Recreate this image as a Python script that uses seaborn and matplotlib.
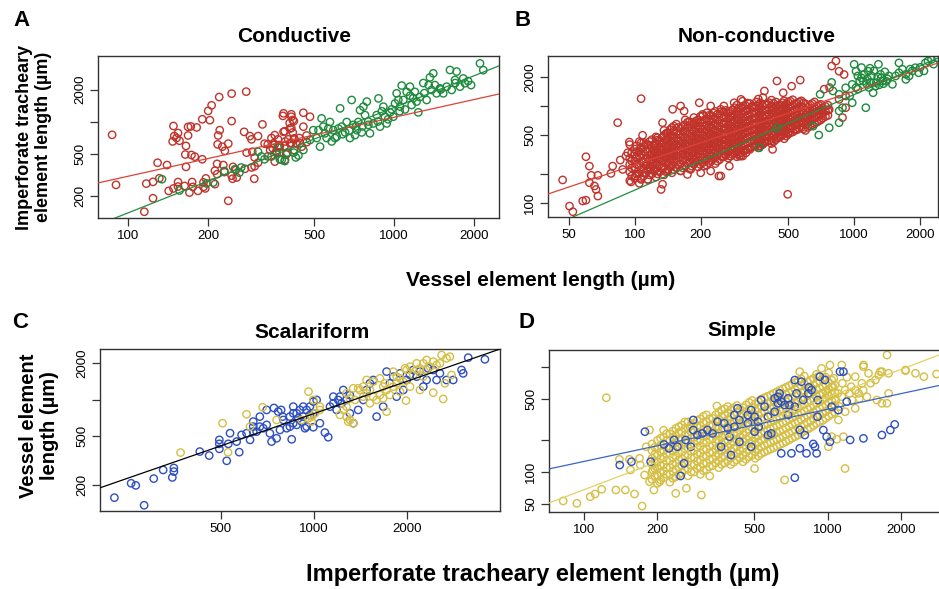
import numpy as np
import pandas as pd
import matplotlib
matplotlib.use("Agg")
import matplotlib.pyplot as plt
from matplotlib.ticker import NullLocator
import seaborn as sns

# ---------------- data (lengths in µm) ----------------
# Panel A – conductive: x = vessel element length, y = imperforate tracheary element length
a_red = [(87,750),(90,254),(129,410),(140,390),(117,261),(124,271),(131,293),(142,223),(148,235),
    (154,270),(154,245),(163,248),(174,270),(175,243),(170,215),(183,223),(192,243),(196,292),(190,442),
    (165,375),(164,490),(173,485),(178,468),(165,590),(148,908),(149,730),(147,650),(152,700),(156,660),
    (154,780),(168,890),(172,900),(181,880),(168,740),(190,1050),(200,1260),(206,1420),(203,1030),
    (220,1700),(245,1830),(278,1910),(245,1010),(221,830),(218,740),(226,580),(217,610),(238,620),
    (231,530),(216,400),(212,345),(228,390),(230,335),(248,375),(254,350),(245,310),(247,290),(256,298),
    (273,800),(287,730),(291,680),(293,520),(279,510),(299,460),(291,370),(298,290),(275,360),(238,180),
    (124,190),(115,142),(216,320),(212,258),(195,235),(192,268),(320,940),(308,730),(326,620),(335,610),
    (346,700),(356,610),(366,680),(382,1130),(411,1170),(405,970),(420,1010),(411,870),(416,790),
    (388,810),(400,680),(411,630),(388,590),(420,680),(371,510),(393,490),(356,420),(335,470),(308,410),
    (299,380),(384,1194),(411,1110),(456,1210),(416,1034),(406,860),(384,800),(356,745),(352,625),
    (372,581),(342,540),(362,503),(395,503),(389,436),(421,695),(443,625),(421,540),(406,625),(483,1110),
    (456,895),(469,740),(350,560),(370,600),(390,650),(430,620),(450,580),(470,640),(360,520),(440,700)]
a_green = [(134,287),(156,225),(197,262),(209,267),(230,343),(252,356),(262,331),(266,370),(308,520),
    (317,470),(326,442),(346,470),(372,442),(388,425),(366,570),(397,510),(420,510),(427,460),(378,436),
    (437,480),(456,540),(483,671),(512,700),(527,581),(534,1070),(550,775),(574,990),(591,830),(609,720),
    (627,1330),(636,895),(655,790),(683,700),(693,1594),(703,930),(724,830),(745,1280),(756,790),
    (767,1380),(778,1150),(790,1540),(801,930),(812,775),(836,960),(861,1150),(874,1650),(886,895),
    (912,1380),(925,1110),(939,960),(966,1220),(994,1110),(1009,1480),(1023,1841),(1038,1594),
    (1054,1380),(1069,2180),(1084,1594),(1116,1900),(1148,2127),(1165,1430),(1181,1660),(1198,1900),
    (1216,1540),(1234,1220),(1289,2300),(1327,1594),(1365,2600),(1385,1980),(1405,2837),(1425,2200),
    (1446,1841),(1489,2050),(1532,1841),(1578,2127),(1624,3050),(1648,1980),(1696,2456),(1720,2950),
    (1771,2127),(1822,2540),(1849,2290),(2106,3520),(2167,3040),(497,830),(542,895),(558,700),(583,650),
    (618,860),(664,990),(713,745),(734,990),(520,830),(566,860),(1100,1300),(950,1050),(870,1000),
    (800,1000),(760,900),(720,900),(680,820),(640,760),(600,700),(1250,1700),(1300,1850),(1500,2000),
    (1700,2300),(1900,2400),(1950,2200),(1150,1750),(1050,1250),(980,1300),(900,1250),(1350,2200)]

# Panel B – non-conductive
b_red = [(47,173),(50.5,93),(52.3,81.4),(58,105),(60,107),(68,118),(66.7,138),(65.6,150),(62.2,162),
    (63.4,193),(68,193),(60,300),(62.2,240),(78,202),(79.4,240),(83.7,673),(86,277),(91.3,305),(93,330),
    (88.2,222),(94.6,425),(107,1190),(108.7,499),(134,673),(96.3,165),(101,190),(114.6,175),(132,138),
    (134,156),(247,190),(272,305),(149,925),(162,1000),(168,887),(151,620),(197,1080),(204,820),
    (222,1000),(247,925),(284,1080),(310,1120),(187,673),(141,530),(127,471),(123,387),(107,418),
    (127,214),(141,214),(162,214),(180,222),(200,205),(222,214),(242,190),(270,240),(305,305),(207,240),
    (174,197),(115,222),(107,175),(111,205),(826,2910),(790,2580),(854,2280),(900,2110),(730,1490),
    (772,1550),(915,1270),(915,960),(885,760),(854,1170),(770,920),(720,850),(498,123),(425,357),
    (370,387),(305,357),(300,305),(390,1428),(445,1810),(568,1850),(519,1600),(475,1370),(305,1170),
    (343,1000),(384,1220),(322,330),(350,387),(380,418),(420,436),(460,490),(500,530),(540,575),
    (590,673),(630,730),(335,357),(311,305),(365,436)]
# dense core of the non-conductive cloud, one entry per vessel-length column
b_red_core = [
    (95, [170, 210, 250, 290, 400]), (100, [180, 230, 270, 320, 360]), (105, [160, 200, 245, 300, 340, 430]),
    (110, [190, 225, 265, 310, 380, 420]), (115, [175, 215, 250, 290, 335, 400]),
    (120, [200, 240, 280, 320, 370, 450]), (125, [185, 225, 265, 305, 350, 410, 480]),
    (130, [210, 250, 290, 330, 380, 440]), (136, [195, 235, 275, 315, 360, 420, 500, 560]),
    (142, [220, 260, 300, 345, 395, 460, 530]), (148, [205, 245, 285, 330, 375, 430, 500, 600]),
    (155, [230, 270, 310, 355, 405, 470, 540, 650]), (162, [215, 255, 295, 340, 390, 440, 510, 590]),
    (170, [240, 280, 320, 365, 415, 475, 550, 640, 720]), (178, [225, 265, 305, 350, 400, 455, 520, 600, 690]),
    (186, [250, 290, 335, 380, 430, 490, 560, 650, 760]), (195, [235, 275, 320, 365, 415, 470, 540, 620, 720]),
    (204, [260, 300, 345, 395, 445, 505, 580, 670, 790]),
    (213, [245, 285, 330, 380, 430, 490, 560, 640, 740, 850]),
    (223, [270, 310, 355, 405, 460, 520, 600, 690, 800]),
    (233, [255, 295, 340, 390, 440, 500, 570, 660, 760, 880]),
    (244, [280, 325, 370, 420, 475, 540, 620, 710, 820]),
    (255, [300, 345, 395, 450, 510, 580, 660, 760, 870, 1000]),
    (267, [290, 335, 380, 430, 490, 555, 635, 730, 840]),
    (279, [315, 360, 410, 465, 525, 600, 690, 790, 910]),
    (292, [300, 345, 395, 450, 510, 580, 660, 760, 880, 1020]),
    (305, [330, 380, 430, 490, 555, 630, 720, 830, 950]),
    (320, [350, 400, 455, 520, 590, 670, 770, 880, 1010]),
    (335, [370, 420, 480, 545, 620, 700, 800, 920, 1060]),
    (350, [390, 440, 500, 570, 650, 740, 850, 970]),
    (366, [370, 420, 475, 540, 610, 690, 790, 900, 1030, 1180]),
    (383, [400, 455, 515, 585, 665, 760, 870, 990]),
    (400, [430, 485, 550, 620, 700, 800, 910, 1050]),
    (420, [410, 465, 530, 600, 680, 770, 880, 1000, 1150]),
    (440, [450, 510, 575, 650, 740, 840, 960, 1100]),
    (460, [480, 545, 615, 700, 790, 900, 1030]),
    (480, [460, 520, 590, 670, 760, 860, 980, 1130]),
    (500, [510, 580, 655, 740, 840, 960, 1100]),
    (525, [540, 610, 690, 780, 890, 1010, 1160]),
    (550, [570, 645, 730, 830, 940, 1070]),
    (575, [600, 680, 770, 870, 990, 1130]),
    (600, [560, 640, 720, 810, 920, 1050]),
    (630, [620, 700, 790, 900, 1030]),
    (660, [660, 750, 850, 960, 1100]),
    (690, [700, 790, 900, 1020]),
    (720, [750, 850, 960]),
    (760, [800, 900, 1020])]
b_red_core_mid = [
    (97, [190, 230, 270, 330]), (102, [200, 250, 295, 340, 390]), (107, [180, 220, 270, 320, 370]),
    (112, [205, 245, 285, 340, 400]), (117, [195, 230, 270, 310, 360, 430]),
    (122, [215, 260, 300, 345, 400]), (127, [200, 245, 285, 325, 375, 445]),
    (133, [230, 270, 310, 355, 410, 470]), (139, [210, 255, 295, 335, 385, 450, 520]),
    (145, [235, 280, 320, 370, 425, 490, 570]), (151, [220, 265, 305, 350, 400, 460, 550]),
    (158, [245, 290, 330, 380, 435, 505, 600]), (166, [230, 275, 315, 365, 415, 475, 550, 620]),
    (174, [255, 300, 340, 390, 445, 510, 590, 680]), (182, [240, 285, 325, 375, 425, 485, 560, 640]),
    (190, [265, 310, 355, 405, 460, 520, 600, 700]), (199, [250, 295, 340, 390, 440, 505, 580, 670, 780]),
    (208, [275, 320, 370, 420, 475, 540, 620, 720]), (218, [260, 305, 355, 405, 460, 525, 600, 690, 800]),
    (228, [285, 330, 380, 430, 490, 560, 640, 740, 850]), (238, [270, 315, 365, 415, 470, 535, 615, 710, 820]),
    (249, [300, 345, 395, 450, 510, 580, 665, 760, 880]), (261, [315, 360, 410, 465, 525, 595, 680, 780, 900]),
    (273, [305, 355, 405, 460, 520, 590, 670, 770, 880]), (285, [330, 380, 430, 490, 555, 630, 720, 830, 960]),
    (298, [320, 370, 420, 480, 545, 620, 710, 810, 940]), (312, [345, 400, 455, 520, 590, 670, 770, 880, 1000]),
    (327, [360, 420, 480, 545, 620, 710, 810, 930, 1070]), (342, [380, 440, 500, 570, 650, 740, 850, 980]),
    (358, [400, 460, 520, 590, 670, 760, 870, 1000, 1100]), (374, [390, 445, 505, 575, 650, 740, 840, 950, 1080]),
    (391, [420, 480, 545, 615, 700, 800, 910, 1040]), (410, [440, 500, 570, 645, 730, 830, 950, 1080]),
    (430, [430, 490, 555, 630, 715, 810, 925, 1060]), (450, [470, 535, 605, 690, 780, 890, 1010]),
    (470, [500, 570, 645, 735, 830, 950, 1080]), (490, [490, 555, 630, 715, 810, 920, 1050]),
    (512, [530, 600, 680, 770, 870, 990, 1120]), (537, [560, 635, 720, 815, 925, 1050]),
    (562, [590, 670, 760, 860, 975, 1100]), (587, [580, 660, 745, 845, 960, 1080]),
    (615, [600, 680, 760, 860, 970]), (645, [640, 725, 820, 930, 1060]),
    (675, [680, 770, 875, 990]), (705, [720, 815, 920, 1040]), (740, [780, 880, 990])]
b_green = [(370,372),(445,597),(690,502),(650,620),(770,597),(854,673),(854,889),(700,1320),(790,1750),
    (800,1430),(854,1320),(915,1540),(980,1670),(1000,2690),(1040,2040),(1080,2490),(1100,1810),
    (1130,960),(1160,2280),(1170,1550),(1200,2040),(1220,1370),(1260,1740),(1290,2690),(1320,2120),
    (1350,1810),(1494,1672),(1546,2040),(1600,2780),(1660,2390),(1720,2120),(1780,2040),(1840,2300),
    (1900,2480),(1970,2200),(2110,2780),(2170,2910),(2250,3020),(2080,2300),(1720,1880),(1440,2040),
    (1020,2280),(1040,1490),(955,1270),(980,1080),(885,960),(1020,1550),(1060,1810),(1110,2100),
    (1150,1900),(1190,1750),(1230,2300),(1280,2000),(1330,1950),(1380,2250),(1420,1900),(1250,1600),
    (1180,2450),(1300,1650),(1140,1700),(1080,1950),(1360,1700),(1400,1800),(1600,2200),(1800,2400),
    (2000,2500),(2300,2700),(2400,3150)]

# Panel C – scalariform: x = imperforate tracheary element length, y = vessel element length
c_blue = [(226,157),(282,136),(256,206),(265,198),(303,225),(325,265),(348,230),(352,257),(352,275),
    (427,375),(458,348),(494,468),(494,434),(494,395),(535,531),(528,434),(522,315),(573,371),(562,453),
    (583,514),(605,530),(621,468),(636,601),(652,547),(668,601),(685,583),(703,621),(720,530),(729,453),
    (757,482),(776,565),(796,682),(816,583),(836,726),(857,641),(879,773),(901,824),(923,726),(947,601),
    (970,877),(995,773),(1020,995),(1045,641),(1085,537),(1112,492),(1127,877),(1155,934),(1184,824),
    (1213,1059),(1244,1201),(1275,995),(1307,773),(1340,641),(1390,824),(1444,995),(1517,1362),
    (1595,726),(1675,877),(1761,1362),(1806,1545),(1851,1059),(1898,1645),(1946,1201),(1995,1451),
    (2096,1753),(2149,1545),(2258,1280),(2315,1451),(2432,1753),(2493,1451),(2556,1645),(2685,1451),
    (2822,1451),(3004,1753),(3040,1645),(3157,2212),(3575,2143),(636,661),(703,824),(766,798),(792,726),
    (857,877),(923,877),(847,473),(995,594),(857,773),(890,704),(912,661),(947,824),(970,750),(879,621),
    (935,583),(836,601),(995,965),(1155,1059),(1198,995),(1228,934),(1307,1090),(1480,1201),(1555,1451),
    (1718,1700),(2045,1598),(2200,1700),(2340,1810),(742,855),(783,824),(668,726),(636,547)]
c_yellow = [(370,368),(506,641),(527,370),(605,759),(682,866),(621,601),(757,682),(960,1164),(995,995),
    (983,726),(1045,877),(1244,824),(1275,726),(1307,682),(1291,661),(1340,641),(1340,1240),(1390,1240),
    (1444,1280),(1480,1128),(1517,1201),(1555,1059),(1595,995),(1635,1093),(1675,1026),(1718,1201),
    (1718,798),(1761,1093),(1806,1280),(1851,1362),(1898,1497),(1946,1406),(1995,1753),(2045,1866),
    (2096,1595),(2149,1988),(2203,1808),(2258,1988),(2315,2117),(2373,1866),(2432,2051),(2493,1926),
    (2588,2326),(2685,2185),(2753,2254),(2787,1595),(2653,1362),(2620,1014),(2432,1142),(2203,1201),
    (1985,982),(1898,1164),(1696,1362),(1555,1406),(1408,1201),(1357,995),(1307,1026),(1275,877),
    (1213,750),(1480,1451),(1635,1497),(1806,1698),(1970,1808),(2149,1753),(2315,1753),(2556,1988),
    (1517,934),(1675,1280),(1851,1545),(2045,1280),(2258,1545),(912,682),(960,704),(983,661),(1045,824),
    (1007,773),(1275,1128),(1444,1059)]

# Panel D – simple
d_yellow = [(82,53),(93.3,50.3),(105.9,58.2),(110.9,61.7),(118,68.4),(123.3,510),(135,67.4),
    (147.6,67.4),(161,61.7),(173,47.4),(139.5,132),(153.5,132),(155,104.5),(168.8,135),(170,116.6),
    (185.6,251),(179.8,174),(177,93.6),(185.6,80.9),(193.4,67.4),(204,80.9),(191.6,104.5),(237.7,62.6),
    (303,60.4),(263,69.9),(328,91.6),(271.6,270),(351,425),(501,108),(666,84),(1179,108),(1754,1300),
    (2087,923),(2296,871),(2485,809),(2800,857),(1780,561),(1671,451),(1752,451),(1593,485),(1472,871),
    (1622,839),(1571,752),(1671,903),(1780,871),(1405,1045),(1298,809),(1383,699),(1341,561),(1259,485),
    (1298,404),(1180,375),(1143,522),(1107,313),(1180,604),(1143,1045),(1161,217),(1039,217),(1007,174),
    (1090,205),(768,903),(944,971),(1022,1045),(914,809),(1403,1007),(1645,902),(2090,936),(1050,650),
    (1100,560),(1150,700),(1200,800),(1250,650),(1080,480),(1120,420),(1000,560),(1060,780),(1230,560),
    (1300,600),(1400,600),(1500,700),(1350,500),(1450,520)]
d_yellow_core = [
    (190, [85, 100, 118, 135, 160, 185]), (200, [78, 92, 108, 125, 145, 170, 200]),
    (212, [88, 102, 118, 138, 160, 185, 215, 250]), (225, [80, 95, 110, 128, 150, 172, 200, 230]),
    (238, [90, 105, 122, 142, 165, 190, 220, 260]), (252, [98, 115, 133, 155, 180, 208, 240, 280]),
    (267, [92, 108, 126, 146, 170, 196, 226, 262, 300]), (283, [100, 118, 137, 160, 185, 214, 248, 290]),
    (300, [95, 112, 130, 152, 176, 204, 236, 275, 320]), (318, [105, 122, 142, 165, 192, 222, 258, 300, 350]),
    (337, [115, 133, 155, 180, 208, 242, 280, 325]), (357, [110, 128, 148, 172, 200, 232, 270, 315, 370]),
    (378, [122, 142, 165, 192, 222, 258, 300, 350, 400]), (400, [118, 136, 158, 184, 214, 248, 288, 335, 390]),
    (424, [130, 150, 175, 203, 235, 272, 316, 368, 430]), (449, [125, 145, 168, 195, 226, 262, 305, 355, 410]),
    (476, [140, 162, 188, 218, 253, 294, 340, 395, 460]), (504, [135, 156, 182, 211, 245, 284, 330, 383, 445]),
    (534, [150, 174, 202, 234, 272, 316, 366, 425, 495]), (566, [160, 186, 216, 250, 290, 336, 390, 452, 525]),
    (600, [170, 197, 229, 266, 308, 358, 415, 480, 560]), (636, [182, 211, 245, 284, 330, 382, 443, 514, 600]),
    (674, [195, 226, 262, 304, 352, 408, 474, 550, 640]), (714, [210, 244, 283, 328, 380, 440, 510, 590, 685]),
    (757, [225, 261, 303, 351, 407, 472, 548, 635, 740]), (802, [245, 284, 329, 382, 443, 514, 596, 690, 820]),
    (850, [265, 307, 356, 413, 479, 556, 645, 750]), (900, [290, 336, 390, 452, 524, 608, 705, 850]),
    (955, [310, 360, 418, 485, 562, 652, 760]), (1010, [340, 395, 458, 531, 616, 715, 880]),
    (1070, [370, 430, 499, 579, 672])]
d_yellow_core_mid = [
    (195, [92, 108, 126, 147, 172]), (206, [84, 98, 115, 134, 155, 180, 210]),
    (218, [95, 110, 128, 149, 172, 200, 232]), (231, [87, 102, 118, 138, 160, 185, 215, 245]),
    (245, [94, 112, 130, 152, 176, 204, 238, 270]), (259, [105, 123, 143, 166, 193, 224, 260, 300]),
    (275, [100, 117, 136, 158, 183, 210, 244, 280]), (291, [108, 127, 148, 172, 198, 230, 268, 310]),
    (309, [103, 120, 140, 163, 190, 219, 255, 296, 340]), (327, [112, 131, 152, 177, 205, 238, 276, 320]),
    (347, [122, 142, 166, 193, 224, 260, 300, 350]), (367, [118, 137, 160, 186, 215, 250, 290, 338, 390]),
    (389, [128, 149, 173, 201, 232, 270, 313, 365, 420]), (412, [124, 144, 167, 194, 225, 260, 302, 350, 410]),
    (436, [137, 160, 185, 215, 250, 290, 336, 390]), (462, [132, 154, 178, 206, 240, 278, 322, 375, 435]),
    (490, [145, 168, 196, 227, 264, 306, 355, 410, 480]), (519, [142, 165, 192, 222, 258, 300, 348, 404, 470]),
    (550, [155, 180, 209, 242, 281, 326, 378, 438, 510]), (583, [165, 192, 222, 258, 299, 347, 402, 466, 540]),
    (618, [176, 204, 237, 275, 319, 370, 429, 497, 580]), (655, [188, 218, 253, 294, 341, 395, 458, 532, 620]),
    (694, [202, 235, 272, 316, 366, 424, 492, 570, 660]), (735, [217, 252, 293, 340, 394, 456, 529, 612, 710]),
    (779, [235, 272, 316, 366, 425, 493, 572, 663, 770]), (826, [255, 296, 343, 398, 461, 535, 620, 720]),
    (875, [277, 321, 373, 432, 501, 581, 675, 780]), (927, [300, 348, 404, 468, 543, 630, 730]),
    (982, [325, 377, 437, 507, 589, 683, 800]), (1040, [355, 412, 478, 555, 644, 750])]
d_blue = [(140,116.6),(156.4,125.4),(187.5,125.4),(177.6,242),(212.7,183),(223,168),(234,202),
    (241.5,174),(249,91.6),(257,121),(261,202),(274,174),(280.5,313),(280.5,251),(292,225),(306,233),
    (321,251),(337,233),(353,302),(365,174),(376,291),(389,261),(395,217),(401,145),(414,270),(427,404),
    (434,194),(470,349),(485,174),(501,336),(517,302),(533,485),(551,419),(569,225),(587,233),(606,375),
    (625,451),(635,561),(645,150.6),(666,435),(688,503),(710,150.6),(733,419),(745,561),(769,168),
    (781,725),(794,485),(806,225),(819,150.6),(837,640),(859,604),(873,185),(887,174),(901,150.6),
    (909,336),(929,809),(960,251),(975,752),(991,217),(1022,194),(1039,419),(1107,389),(1124,903),
    (1161,903),(1198,468),(1237,202),(1403,209),(1671,225),(1810,251),(1886,284),(733,88.3),(414,349),
    (434,313),(470,291),(485,389),(501,242),(521,270),(569,336),(606,503),(625,521),(645,468),(688,349),
    (697,435),(733,751),(769,251),(833,561),(911,485)]

# Fitted lines on log-log axes: log10(y) = intercept + slope * log10(x)
a_red_fit, a_green_fit = (1.378, 0.554), (0.162, 0.990)
b_red_fit, b_green_fit = (0.873, 0.760), (0.163, 0.985)
c_all_fit = (0.246, 0.880)
d_yellow_fit, d_blue_fit = (0.072, 0.880), (1.109, 0.496)

# ---------------- styling ----------------
RED, GREEN = "#c0332b", "#1d8a3c"
BLUE, YELLOW = "#2d4fc2", "#d6bf45"
RED_LINE, GREEN_LINE = "#dd4236", "#1f8f3f"
BLUE_LINE, YELLOW_LINE = "#3a64c4", "#e2d266"

plt.rcParams["font.family"] = ["Liberation Sans", "DejaVu Sans"]
plt.rcParams["axes.linewidth"] = 1.0

W, H = 939, 589
fig = plt.figure(figsize=(W / 100, H / 100), dpi=100)


def px_axes(left, top, right, bottom):
    return fig.add_axes([left / W, 1 - bottom / H, (right - left) / W, (bottom - top) / H])


def to_frame(pairs):
    return pd.DataFrame(pairs, columns=["x", "y"])


def columns_frame(*col_sets):
    rows = [(x, y) for cols in col_sets for x, ys in cols for y in ys]
    return to_frame(rows)


def scatter(ax, df, color):
    sns.scatterplot(data=df, x="x", y="y", ax=ax, s=28, marker="o",
                    facecolor="none", edgecolor=color, linewidth=1.0,
                    legend=False, zorder=2)


def fit_line(ax, fit, color):
    lo, hi = ax.get_xlim()
    xs = np.array([lo, hi])
    ys = 10 ** (fit[0] + fit[1] * np.log10(xs))
    ax.plot(xs, ys, color=color, lw=0.9, zorder=3)


def style(ax, xlim, ylim, xticks, yticks, ylabels):
    ax.set_xscale("log")
    ax.set_yscale("log")
    ax.set_xlim(xlim)
    ax.set_ylim(ylim)
    ax.set_xticks(xticks, [str(t) for t in xticks])
    ax.set_yticks(yticks, ylabels)
    ax.xaxis.set_minor_locator(NullLocator())
    ax.yaxis.set_minor_locator(NullLocator())
    ax.tick_params(direction="out", length=5.5, width=0.9, labelsize=9.5,
                   color="#333333", pad=3)
    for lab in ax.get_yticklabels():
        lab.set_rotation(90)
        lab.set_va("center")
    for sp in ax.spines.values():
        sp.set_color("#333333")
        sp.set_linewidth(1.0)
    ax.set_xlabel("")
    ax.set_ylabel("")


# Panel A
axA = px_axes(98, 56, 499, 218)
scatter(axA, to_frame(a_red), RED)
scatter(axA, to_frame(a_green), GREEN)
style(axA, (77, 2483), (124, 4130), [100, 200, 500, 1000, 2000],
      [200, 500, 1000, 2000], ["200", "500", "", "2000"])
fit_line(axA, a_red_fit, RED_LINE)
fit_line(axA, a_green_fit, GREEN_LINE)
axA.set_xlim(77, 2483); axA.set_ylim(124, 4130)

# Panel B
axB = px_axes(548, 56, 938, 217)
scatter(axB, to_frame(b_red), RED)
scatter(axB, columns_frame(b_red_core, b_red_core_mid), RED)
scatter(axB, to_frame(b_green), GREEN)
style(axB, (40.3, 2410), (71.8, 3275), [50, 100, 200, 500, 1000, 2000],
      [100, 200, 500, 1000, 2000], ["100", "", "500", "", "2000"])
fit_line(axB, b_red_fit, RED_LINE)
fit_line(axB, b_green_fit, GREEN_LINE)
axB.set_xlim(40.3, 2410); axB.set_ylim(71.8, 3275)

# Panel C
axC = px_axes(100, 349, 500, 511)
scatter(axC, to_frame(c_blue), BLUE)
scatter(axC, to_frame(c_yellow), YELLOW)
style(axC, (203, 4000), (122, 2606), [500, 1000, 2000],
      [200, 500, 1000, 2000], ["200", "500", "", "2000"])
fit_line(axC, c_all_fit, "black")
axC.set_xlim(203, 4000); axC.set_ylim(122, 2606)

# Panel D
axD = px_axes(549, 350, 942, 512)
scatter(axD, to_frame(d_yellow), YELLOW)
scatter(axD, columns_frame(d_yellow_core, d_yellow_core_mid), YELLOW)
scatter(axD, to_frame(d_blue), BLUE)
style(axD, (71.7, 2950), (41.6, 1452), [100, 200, 500, 1000, 2000],
      [50, 100, 200, 500, 1000], ["50", "100", "", "500", ""])
fit_line(axD, d_yellow_fit, YELLOW_LINE)
fit_line(axD, d_blue_fit, BLUE_LINE)
axD.set_xlim(71.7, 2950); axD.set_ylim(41.6, 1452)

# Titles, panel letters and shared axis labels
def ftext(x, y, s, **kw):
    fig.text(x / W, 1 - y / H, s, **kw)

ftext(294, 36, "Conductive", ha="center", va="center", fontsize=15, fontweight="bold")
ftext(757, 36, "Non-conductive", ha="center", va="center", fontsize=15, fontweight="bold")
ftext(312, 333, "Scalariform", ha="center", va="center", fontsize=15, fontweight="bold")
ftext(742, 330, "Simple", ha="center", va="center", fontsize=15, fontweight="bold")

for letter, (lx, ly) in {"A": (21, 21), "B": (523, 21), "C": (20, 323), "D": (527, 323)}.items():
    ftext(lx, ly, letter, ha="center", va="center", fontsize=16, fontweight="bold")

ftext(541, 280, "Vessel element length (µm)", ha="center", va="center",
      fontsize=15, fontweight="bold")
ftext(543, 574, "Imperforate tracheary element length (µm)", ha="center", va="center",
      fontsize=17, fontweight="bold")
ftext(34, 137, "Imperforate tracheary\nelement length (µm)", ha="center", va="center",
      rotation=90, fontsize=13, fontweight="bold", linespacing=1.15, multialignment="center")
ftext(39, 426, "Vessel element\nlength (µm)", ha="center", va="center",
      rotation=90, fontsize=14.5, fontweight="bold", linespacing=1.15, multialignment="center")

fig.savefig("out.png", dpi=100)
